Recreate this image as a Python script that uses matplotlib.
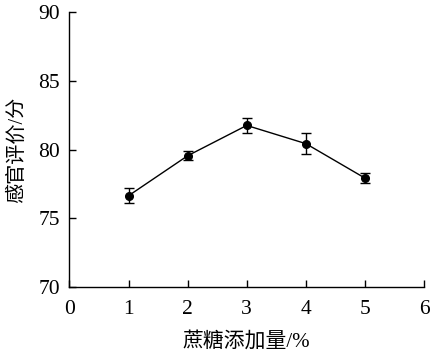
import matplotlib
matplotlib.use("Agg")
import matplotlib.pyplot as plt

plt.rcParams['font.family'] = ['Liberation Serif', 'Noto Sans CJK SC']
plt.rcParams['mathtext.fontset'] = 'stix'

# 蔗糖添加量 vs 感官评价
sucrose = [1, 2, 3, 4, 5]
score = [76.65, 79.55, 81.75, 80.43, 77.93]
err = [0.56, 0.33, 0.54, 0.77, 0.39]

xticks = [0, 1, 2, 3, 4, 5, 6]
yticks = [70, 75, 80, 85, 90]

fig = plt.figure(figsize=(4.3, 3.57), dpi=100)
ax = fig.add_axes([0.1616, 0.1952, 0.8244, 0.7718])

ax.errorbar(sucrose, score, yerr=err, color='black', lw=1.0, marker='o',
            markersize=5.5, capsize=3.5, elinewidth=1.0, capthick=1.0)

ax.set_xlim(0, 6)
ax.set_ylim(70, 90)
ax.set_xticks(xticks)
ax.set_yticks(yticks)
ax.spines['top'].set_visible(False)
ax.spines['right'].set_visible(False)
for s in ['left', 'bottom']:
    ax.spines[s].set_linewidth(1.0)
ax.tick_params(direction='in', length=5, width=1.0, labelsize=15.5)
ax.tick_params(axis='x', pad=9)
ax.tick_params(axis='y', pad=7)

ax.set_xlabel('蔗糖添加量/%', fontsize=15, labelpad=9)
ax.set_ylabel('感官评价/分', fontsize=14.5, labelpad=8)

fig.savefig('out.png', dpi=100)
